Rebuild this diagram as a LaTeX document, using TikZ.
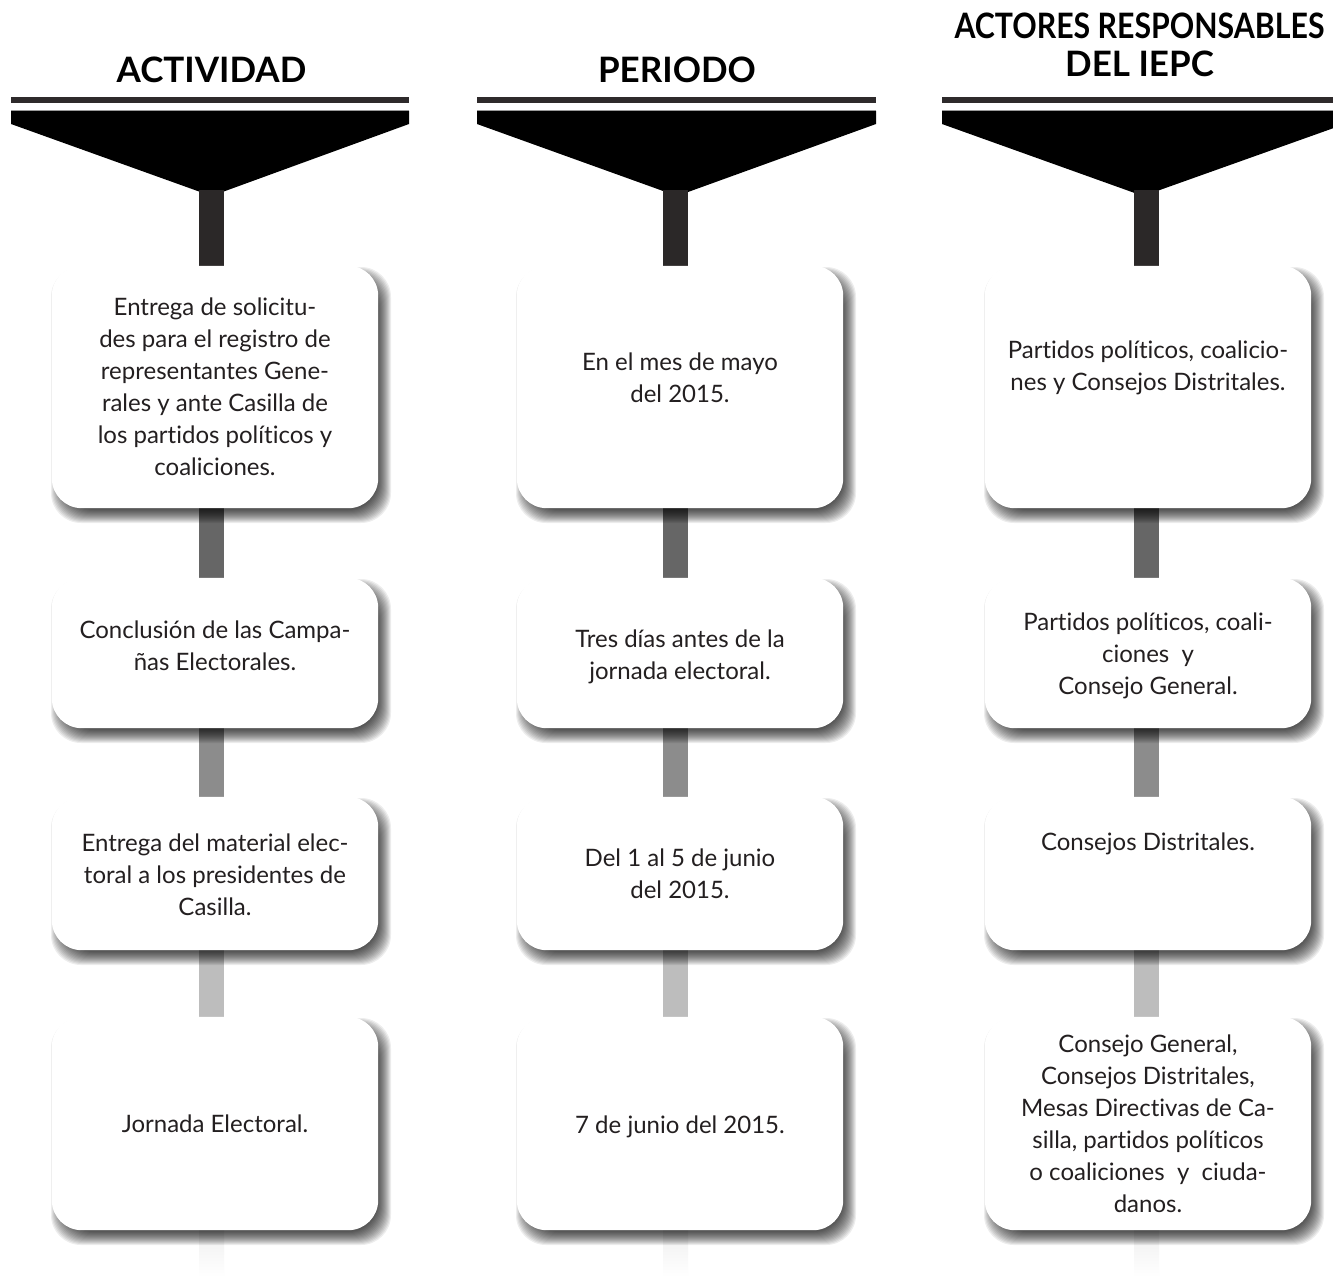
\documentclass[tikz,border=0pt]{standalone}
\usepackage{fontspec}
\usepackage{graphicx}
\setmainfont{Lato}
\newfontfamily\bodyfont[Ligatures={NoCommon}]{Lato}
\newfontfamily\headfont[Ligatures={NoCommon}]{Lato Bold}
\usetikzlibrary{calc}
\definecolor{txt}{HTML}{231F20}
\definecolor{hbar}{HTML}{2E2A2B}
\definecolor{hline}{HTML}{9A9A9A}
\definecolor{stemA}{HTML}{2B2828}
\definecolor{stemB}{HTML}{666666}
\definecolor{stemC}{HTML}{8C8C8C}
\definecolor{stemD}{HTML}{BDBDBD}
\definecolor{stemE}{HTML}{EFEFEF}
\newcommand\cardshadow[4]{%
  \foreach \k in {0,...,13}{%
    \pgfmathsetmacro\ee{7-\k}%
    \fill[black, fill opacity=0.072, rounded corners=30pt]
      ({#1+6-\ee},{#2+8-\ee}) rectangle ({#3+6+\ee},{#4+8+\ee});
  }}
\newcommand\headershape[3]{% x1 x2 apex-x
  \fill[hbar] (#1,97) rectangle (#2,103);
  \fill[hline] (#1,109.5) rectangle (#2,111);
  \fill[black] (#1,111) -- (#2,111) -- (#2,124) -- (#3,196) -- (#1,124) -- cycle;}
\begin{document}
\begin{tikzpicture}[x=1pt,y=-1pt,
  card/.style={rectangle, rounded corners=30pt, fill=white, minimum width=326pt, inner sep=0pt},
  cardtext/.style={align=center, text=txt, font=\bodyfont\fontsize{24}{32}\selectfont, inner sep=0pt},
  head/.style={font=\headfont\fontsize{35}{38}\selectfont, text=black, align=center, inner sep=0pt},
]
\useasboundingbox (0,0) rectangle (1333,1277);
\fill[white] (0,0) rectangle (1333,1277);

% column axes
\coordinate (a1) at (211.5,0);
\coordinate (a2) at (675.5,0);
\coordinate (a3) at (1146.5,0);

% headers
\headershape{11}{409}{211.5}
\headershape{477}{876}{677}
\headershape{942}{1345}{1143}
\node[head] (hd1) at (211.5,69.5) {ACTIVIDAD};
\node[head] (hd2) at (677,69.5) {PERIODO};
\node[head] (hd3) at (1139.5,45) {\scalebox{0.865}[1]{ACTORES RESPONSABLES}\\DEL IEPC};
\coordinate (h1) at (211.5,190);
\coordinate (h2) at (675.5,190);
\coordinate (h3) at (1146.5,190);

% card geometry (named placeholders)
\path (215,387) node[card, minimum height=242pt, fill=none] (b11) {}
      (215,653) node[card, minimum height=150pt, fill=none] (b21) {}
      (215,873.5) node[card, minimum height=153pt, fill=none] (b31) {}
      (215,1123.5) node[card, minimum height=213pt, fill=none] (b41) {}
      (680,387) node[card, minimum height=242pt, fill=none] (b12) {}
      (680,653) node[card, minimum height=150pt, fill=none] (b22) {}
      (680,873.5) node[card, minimum height=153pt, fill=none] (b32) {}
      (680,1123.5) node[card, minimum height=213pt, fill=none] (b42) {}
      (1148,387) node[card, minimum height=242pt, fill=none] (b13) {}
      (1148,653) node[card, minimum height=150pt, fill=none] (b23) {}
      (1148,873.5) node[card, minimum height=153pt, fill=none] (b33) {}
      (1148,1123.5) node[card, minimum height=213pt, fill=none] (b43) {};
\coordinate (e1) at (211.5,1277);
\coordinate (e2) at (675.5,1277);
\coordinate (e3) at (1146.5,1277);

% stems (connectors)
\foreach \c in {1,2,3}{
  \fill[stemA] ($(h\c)+(-12.5,0)$) rectangle ($(b1\c.north -| a\c)+(12.5,2)$);
  \fill[stemB] ($(b1\c.south -| a\c)+(-12.5,-2)$) rectangle ($(b2\c.north -| a\c)+(12.5,2)$);
  \fill[stemC] ($(b2\c.south -| a\c)+(-12.5,-2)$) rectangle ($(b3\c.north -| a\c)+(12.5,2)$);
  \fill[stemD] ($(b3\c.south -| a\c)+(-12.5,-2)$) rectangle ($(b4\c.north -| a\c)+(12.5,2)$);
  \shade[top color=stemE, bottom color=white] ($(b4\c.south -| a\c)+(-12.5,-2)$) rectangle ($(e\c)+(12.5,0)$);
}

% shadows
\foreach \x in {52,517,985}{
  \cardshadow{\x}{266}{\x+326}{508}
  \cardshadow{\x}{578}{\x+326}{728}
  \cardshadow{\x}{797}{\x+326}{950}
  \cardshadow{\x}{1017}{\x+326}{1230}
}

% cards
\foreach \n in {b11,b21,b31,b41,b12,b22,b32,b42,b13,b23,b33,b43}{
  \fill[white, rounded corners=30pt] (\n.north west) rectangle (\n.south east);
}

% texts
\node[cardtext] (t11) at (b11) {Entrega de solicitu-\\des para el registro de\\representantes Gene-\\rales y ante Casilla de\\los partidos políticos y\\coaliciones.};
\node[cardtext] (t21) at ($(b21)+(0,-7)$) {Conclusión de las Campa-\\ñas Electorales.};
\node[cardtext] (t31) at ($(b31)+(0,1)$) {Entrega del material elec-\\toral a los presidentes de\\Casilla.};
\node[cardtext] (t41) at (b41) {Jornada Electoral.};

\node[cardtext] (t12) at ($(b12)+(0,-9)$) {En el mes de mayo\\del 2015.};
\node[cardtext] (t22) at ($(b22)+(0,4)$) {Tres días antes de la\\jornada electoral.};
\node[cardtext] (t32) at ($(b32)+(0,0)$) {Del 1 al 5 de junio\\del 2015.};
\node[cardtext] (t42) at ($(b42)+(0,3)$) {7 de junio del 2015.};

\node[cardtext] (t13) at ($(b13)+(0,-19)$) {Partidos políticos, coalicio-\\nes y Consejos Distritales.};
\node[cardtext] (t23) at ($(b23)+(0,3)$) {Partidos políticos, coali-\\ciones\ \ y\\Consejo General.};
\node[cardtext] (t33) at ($(b33)+(0,-30)$) {Consejos Distritales.};
\node[cardtext] (t43) at (b43) {Consejo General,\\Consejos Distritales,\\Mesas Directivas de Ca-\\silla, partidos políticos\\o coaliciones\ \ y\ \ ciuda-\\danos.};
\end{tikzpicture}
\end{document}
